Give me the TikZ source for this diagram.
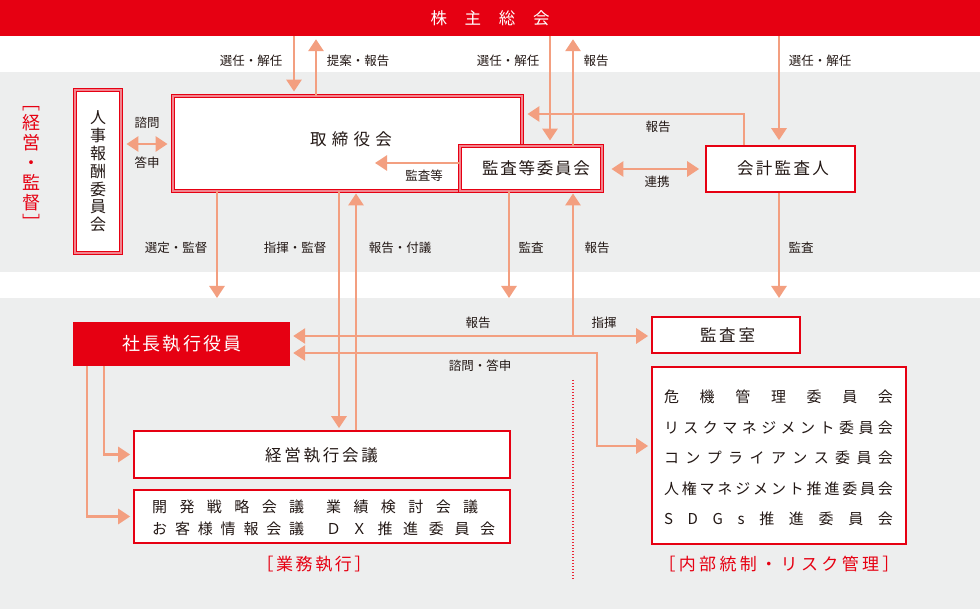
\documentclass[tikz,border=0pt]{standalone}
\usepackage{fontspec}
\setmainfont{Noto Sans CJK JP}
\usetikzlibrary{arrows.meta}
\definecolor{jred}{HTML}{E60012}
\definecolor{jpink}{HTML}{F2848E}
\definecolor{jsal}{HTML}{F39F80}
\definecolor{jgrey}{HTML}{EDEEEE}
\definecolor{jtxt}{HTML}{231815}
\tikzset{
  arr/.style={draw=jsal, line width=2.7pt, -{Triangle[length=12pt,width=15pt]}},
  darr/.style={draw=jsal, line width=2.7pt, {Triangle[length=12pt,width=15pt]}-{Triangle[length=12pt,width=15pt]}},
  dbox/.style={draw=jred, double=jpink, double distance=2.4pt, line width=0.8pt, fill=white, inner sep=0pt},
  sbox/.style={draw=jred, line width=1.6pt, fill=white, inner sep=0pt},
  lbl/.style={text=jtxt, font=\fontsize{12.5}{14}\selectfont, inner sep=0pt},
  ttl/.style={text=jtxt, font=\fontsize{16.5}{18}\selectfont, inner sep=0pt},
  rtl/.style={text=jred, font=\fontsize{17}{20}\selectfont, inner sep=0pt},
}
\begin{document}
\begin{tikzpicture}[x=1pt,y=-1pt]
\useasboundingbox (0,0) rectangle (980,609);
\fill[white] (0,0) rectangle (980,609);
\fill[jgrey] (0,72) rectangle (980,272);
\fill[jgrey] (0,298) rectangle (980,609);

% x / y reference coordinates
\foreach \x in {87,104,217,294,316,339,356,375,509,550,573,597,744,779}
  {\coordinate (X\x) at (\x,0);}
\foreach \y in {114,144,163,169,298,353,446}
  {\coordinate (Y\y) at (0,\y);}
\coordinate (J) at (573,336);

% nodes
\node[fill=jred, minimum width=980pt, minimum height=36pt, inner sep=0pt,
      text=white, font=\fontsize{16.5}{18}\selectfont] (sh) at (490,18)
      {\makebox[119pt][s]{株\hfill 主\hfill 総\hfill 会}};

\node[dbox, minimum width=46pt, minimum height=163pt] (jinji) at (98,171.5) {};
\node[text=jtxt, font=\fontsize{16}{17.8}\selectfont, align=center, inner sep=0pt]
      (jinjit) at (98,171.5) {人\\事\\報\\酬\\委\\員\\会};

\node[dbox, minimum width=349pt, minimum height=95pt] (tb) at (347.5,143.5) {};
\node[ttl] (tbt) at (351,139) {\makebox[82pt][s]{取\hfill 締\hfill 役\hfill 会}};

\node[dbox, minimum width=142pt, minimum height=45pt] (kansa) at (531,168.5) {};
\node[ttl] (kansat) at (536,168) {\makebox[108pt][s]{監\hfill 査\hfill 等\hfill 委\hfill 員\hfill 会}};

\node[sbox, minimum width=149pt, minimum height=46pt] (kaikei) at (780.5,169) {};
\node[ttl] (kaikeit) at (783,168) {\makebox[92pt][s]{会\hfill 計\hfill 監\hfill 査\hfill 人}};

\node[fill=jred, minimum width=217pt, minimum height=44pt, inner sep=0pt] (shacho) at (181.5,344) {};
\node[text=white, font=\fontsize{18}{20}\selectfont, inner sep=0pt] (shachot) at (182,344)
      {\makebox[119pt][s]{社\hfill 長\hfill 執\hfill 行\hfill 役\hfill 員}};

\node[sbox, minimum width=148pt, minimum height=36pt] (kshitsu) at (726,335) {};
\node[ttl] (kshitsut) at (727.5,335) {\makebox[55pt][s]{監\hfill 査\hfill 室}};

\node[sbox, minimum width=376pt, minimum height=47pt] (keiei) at (322,454.5) {};
\node[ttl] (keieit) at (321.5,455) {\makebox[113pt][s]{経\hfill 営\hfill 執\hfill 行\hfill 会\hfill 議}};

\node[sbox, minimum width=376pt, minimum height=53pt] (kaigi) at (322,516.5) {};
\node[text=jtxt, font=\fontsize{15}{22}\selectfont, align=left, inner sep=0pt, anchor=west] (kaigit) at (152,517.5)
  {\makebox[152pt][s]{開\hfill 発\hfill 戦\hfill 略\hfill 会\hfill 議}\hspace{22pt}\makebox[152pt][s]{業\hfill 績\hfill 検\hfill 討\hfill 会\hfill 議}\\
   \makebox[152pt][s]{お\hfill 客\hfill 様\hfill 情\hfill 報\hfill 会\hfill 議}\hspace{22pt}\makebox[169pt][s]{Ｄ\hfill Ｘ\hfill 推\hfill 進\hfill 委\hfill 員\hfill 会}};

\node[sbox, minimum width=254pt, minimum height=177pt] (naibu) at (779,455.5) {};
\node[text=jtxt, font=\fontsize{15}{30.5}\selectfont, align=left, inner sep=0pt] (naibut) at (778.5,458)
  {\makebox[229pt][s]{危\hfill 機\hfill 管\hfill 理\hfill 委\hfill 員\hfill 会}\\
   \makebox[229pt][s]{リ\hfill ス\hfill ク\hfill マ\hfill ネ\hfill ジ\hfill メ\hfill ン\hfill ト\hfill 委\hfill 員\hfill 会}\\
   \makebox[229pt][s]{コ\hfill ン\hfill プ\hfill ラ\hfill イ\hfill ア\hfill ン\hfill ス\hfill 委\hfill 員\hfill 会}\\
   \makebox[229pt][s]{人\hfill 権\hfill マ\hfill ネ\hfill ジ\hfill メ\hfill ン\hfill ト\hfill 推\hfill 進\hfill 委\hfill 員\hfill 会}\\
   \makebox[229pt][s]{S\hfill D\hfill G\hfill s\hfill 推\hfill 進\hfill 委\hfill 員\hfill 会}};

% section labels
\node[rtl] (gyomu) at (314,564) {\makebox[115pt][s]{［\hfill 業\hfill 務\hfill 執\hfill 行\hfill ］}};
\node[rtl] (naibul) at (779,564) {\makebox[241pt][s]{［\hfill 内\hfill 部\hfill 統\hfill 制\hfill ・\hfill リ\hfill ス\hfill ク\hfill 管\hfill 理\hfill ］}};
\node[text=jred, font=\fontsize{18}{20}\selectfont, align=center, inner sep=0pt] (keieil) at (32,168)
  {﹇\\経\\営\\・\\監\\督\\﹈};

% dotted separator
\draw[jred!85, line width=1.3pt, dash pattern=on 1.3pt off 1.7pt] (573,380) -- (573,580);

% connectors
\draw[arr, shorten >=4pt] (sh.south -| X294) -- (tb.north -| X294);
\draw[arr, shorten >=3pt] (tb.north -| X316) -- (sh.south -| X316);
\draw[arr, shorten >=5pt] (sh.south -| X550) -- (kansa.north -| X550);
\draw[arr, shorten >=3pt] (kansa.north -| X573) -- (sh.south -| X573);
\draw[arr, shorten >=5pt] (sh.south -| X779) -- (kaikei.north -| X779);
\draw[arr, shorten >=5pt] (kaikei.north -| X744) |- (tb.east |- Y114);
\draw[darr, shorten >=5pt, shorten <=5pt] (jinji.east |- Y144) -- (tb.west |- Y144);
\draw[arr] (kansa.west |- Y163) -- (X375 |- Y163);
\draw[darr, shorten >=6pt, shorten <=9pt] (kansa.east |- Y169) -- (kaikei.west |- Y169);
\draw[arr] (tb.south -| X217) -- (X217 |- Y298);
\draw[arr, shorten >=2pt] (tb.south -| X339) -- (keiei.north -| X339);
\draw[arr, shorten >=2pt] (keiei.north -| X356) -- (tb.south -| X356);
\draw[arr] (kansa.south -| X509) -- (X509 |- Y298);
\draw[arr, shorten >=2pt] (J) -- (kansa.south -| X573);
\draw[arr] (kaikei.south -| X779) -- (X779 |- Y298);
\draw[arr, shorten >=3pt] (J) -- (shacho.east |- J);
\draw[arr, shorten >=3pt] (J) -- (kshitsu.west |- J);
\draw[darr, shorten >=3pt, shorten <=3pt] (shacho.east |- Y353) -| (X597 |- Y446) -- (naibu.west |- Y446);
\draw[arr, shorten >=3pt] (shacho.south -| X104) |- (keiei.west);
\draw[arr, shorten >=3pt] (shacho.south -| X87) |- (kaigi.west);

% connector labels
\node[lbl] at (251,61) {選任・解任};
\node[lbl] at (358,61) {提案・報告};
\node[lbl] at (508,61) {選任・解任};
\node[lbl] at (596,61) {報告};
\node[lbl] at (820,61) {選任・解任};
\node[lbl] at (658,127) {報告};
\node[lbl] at (147,123) {諮問};
\node[lbl] at (147,163) {答申};
\node[lbl] at (424,176) {監査等};
\node[lbl] at (657,182) {連携};
\node[lbl] at (176,248) {選定・監督};
\node[lbl] at (295,248) {指揮・監督};
\node[lbl] at (400,248) {報告・付議};
\node[lbl] at (531,248) {監査};
\node[lbl] at (597,248) {報告};
\node[lbl] at (801,248) {監査};
\node[lbl] at (478,323) {報告};
\node[lbl] at (604,323) {指揮};
\node[lbl] at (480,366) {諮問・答申};
\end{tikzpicture}
\end{document}
